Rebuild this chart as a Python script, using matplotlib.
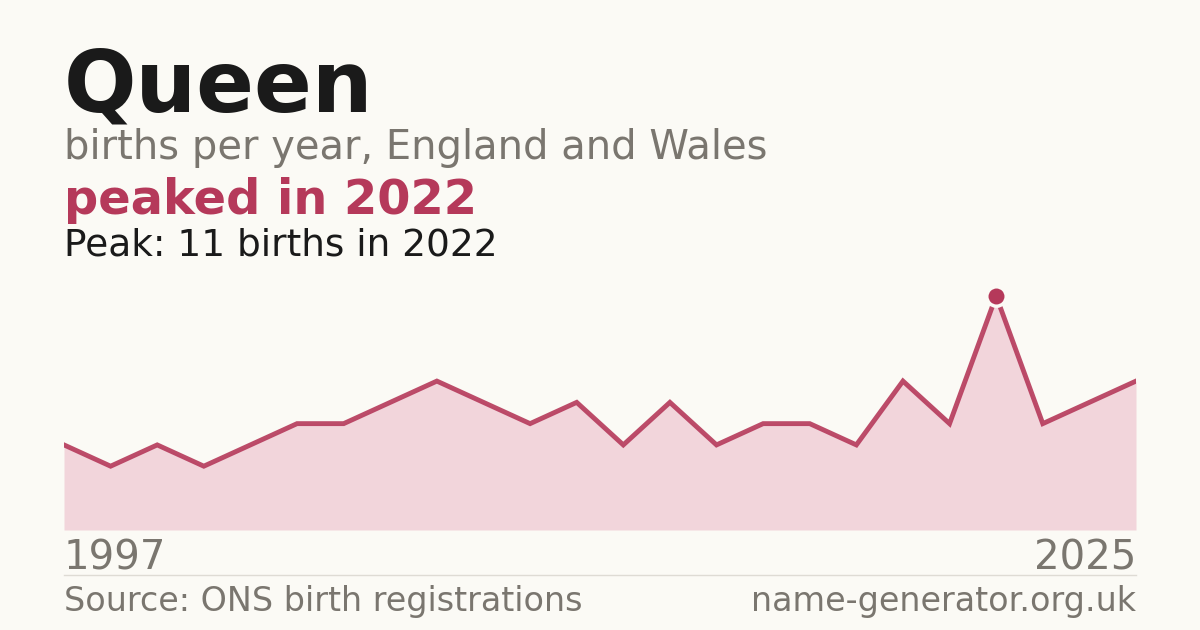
import numpy as np
import matplotlib
matplotlib.use("Agg")
import matplotlib.pyplot as plt

# births per year for the name, in chart order (first label 1997, last 2025)
births = [4, 3, 4, 3, 4, 5, 5, 6, 7, 6, 5, 6, 4, 6, 4, 5, 5, 4, 7, 5, 11, 5, 6, 7]
first_year = "1997"
last_year = "2025"
peak_year = "2022"

bg = "#fbfaf5"
red = "#b5395a"
fill = "#f2d5db"
grey = "#7a766f"
dark = "#1a1a1a"

W, H = 1200, 630
fig = plt.figure(figsize=(W / 100, H / 100), dpi=100, facecolor=bg)

ax = fig.add_axes([64 / W, 100 / H, 1072 / W, 234 / H])
ax.set_facecolor(bg)
x = np.arange(len(births))
ax.fill_between(x, births, 0, color=fill, lw=0)
ax.plot(x, births, color=red, lw=3.5, solid_joinstyle="miter", alpha=0.9)
ipk = int(np.argmax(births))
ax.plot([x[ipk]], [births[ipk]], "o", ms=14, color=red, mec=bg, mew=2.5, clip_on=False, zorder=5)
ax.set_xlim(0, len(births) - 1)
ax.set_ylim(0, max(births))
ax.axis("off")

def px(xp, yp):
    return xp / W, 1 - yp / H

fig.text(*px(64, 111), "Queen", fontsize=61.5, fontweight="bold", color=dark, va="baseline")
fig.text(*px(64, 159), "births per year, England and Wales", fontsize=28.8, color=grey, va="baseline")
fig.text(*px(64, 214), "peaked in " + peak_year, fontsize=34.5, fontweight="bold", color=red, va="baseline")
fig.text(*px(64, 255), "Peak: %d births in %s" % (max(births), peak_year), fontsize=27, color=dark, va="baseline")

fig.text(*px(64, 570), first_year, fontsize=29, color=grey, va="baseline")
fig.text(*px(1136, 570), last_year, fontsize=29, color=grey, va="baseline", ha="right")

fig.add_artist(plt.Line2D([64 / W, 1136 / W], [1 - 575 / H] * 2, color="#dedbd4", lw=1))

fig.text(*px(64, 611), "Source: ONS birth registrations", fontsize=24, color=grey, va="baseline")
fig.text(*px(1136, 611), "name-generator.org.uk", fontsize=24, color=grey, va="baseline", ha="right")

fig.savefig("out.png", dpi=100, facecolor=bg)
